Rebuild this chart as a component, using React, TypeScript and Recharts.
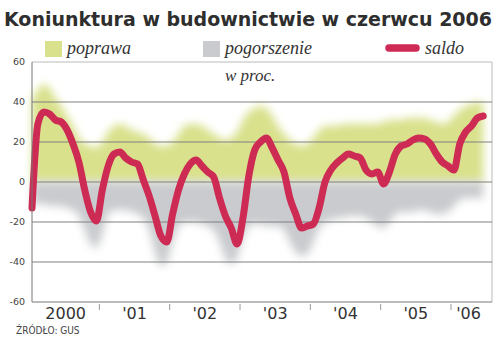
import React from "react";
import { ComposedChart, Area, Line, XAxis, YAxis, ReferenceLine } from "recharts";

// monthly, Jan 2000 .. Jun 2006 (78 months)
const saldo = [
  -13, 29, 35, 34, 31, 30, 26, 19, 10, -4,
  -15, -19.5, -4, 8, 14, 15, 12, 10, 9, 1,
  -7, -17, -27, -30, -16, -4, 4, 9, 11, 8,
  5, 2.5, -8, -17, -23, -31, -18, 3, 16, 20,
  22, 17, 11, 5, -8, -16, -23, -22, -21, -13,
  0, 6, 9.5, 12, 14, 13, 12, 6, 4, 5,
  -1, 5, 14, 18, 19, 21, 22, 21.5, 19, 14,
  10, 8, 6, 19, 25, 28, 32, 33,
];

const poprawa = [
  42, 46, 49, 47, 42, 38, 33, 28, 22, 19,
  18, 17, 20, 25, 28, 29, 28, 26, 25, 24,
  22, 19, 18, 18, 20, 24, 28, 29, 29, 28,
  26, 24, 22, 21, 22, 25, 31, 35, 37, 38,
  37, 33, 28, 24, 21, 19, 18, 19, 22, 26,
  28, 28, 28, 29, 29, 29, 29, 29, 29, 29,
  30, 31, 31, 31, 32, 32, 32, 32, 31, 30,
  29, 30, 33, 36, 38, 39, 40, 40,
];

const pogorszenie = [
  -11, -11, -11, -12, -12, -12, -13, -14, -17, -24,
  -31, -33, -26, -16, -14, -14, -14, -15, -16, -18,
  -24, -35, -42, -40, -30, -22, -20, -20, -20, -21,
  -22, -24, -30, -38, -41, -38, -28, -22, -21, -21,
  -22, -22, -22, -24, -30, -35, -37, -36, -30, -23,
  -20, -19, -18, -18, -17, -17, -17, -18, -20, -22,
  -23, -20, -16, -15, -15, -15, -14, -14, -15, -16,
  -16, -15, -12, -9, -8, -8, -8, -8,
];

const yearLabels = ["2000", "'01", "'02", "'03", "'04", "'05", "'06"];
const yTicks = [-60, -40, -20, 0, 20, 40, 60];
const gridValues = [-40, -20, 0, 20, 40];

const GREEN = "#d9e18c";
const GRAY = "#c9cbce";
const RED = "#cd2a54";

const data = saldo.map((s, i) => ({
  m: i,
  saldo: s,
  poprawa: poprawa[i],
  pogorszenie: pogorszenie[i],
}));

const n = saldo.length;
const xMax = n + 0.5;

// year boundaries get a small tick mark, year centres get the label
const boundaries = yearLabels.slice(1).map((_, i) => (i + 1) * 12 - 0.5);
const labelAt = new Map<number, string>();
yearLabels.forEach((lab, i) => {
  const start = i * 12 - 0.5;
  const end = Math.min(i * 12 + 11.5, n - 0.5);
  labelAt.set((Math.max(start, 0) + end) / 2, lab);
});
const xTicks = [...labelAt.keys(), ...boundaries].sort((a, b) => a - b);

const YearTick = (props: any) => {
  const { x, y, payload } = props;
  const lab = labelAt.get(payload.value);
  if (lab === undefined) {
    return <line x1={x} x2={x} y1={y + 2} y2={y + 8} stroke="#999" strokeWidth={1} />;
  }
  return (
    <text
      x={x}
      y={y + 16.5}
      textAnchor="middle"
      fill="#333"
      fontSize={16}
      fontFamily="'DejaVu Sans', sans-serif"
    >
      {lab}
    </text>
  );
};

const serif = "'Liberation Serif', 'DejaVu Serif', serif";

export default function App() {
  return (
    <div style={{ position: "absolute", left: 0, top: 0, width: 500, height: 354, background: "#fff" }}>
      <ComposedChart
        width={500}
        height={354}
        data={data}
        margin={{ top: 62, right: 8, bottom: 22, left: 0 }}
      >
        <defs>
          <filter id="soft" x="-10%" y="-30%" width="120%" height="160%">
            <feGaussianBlur stdDeviation="4" />
          </filter>
        </defs>
        <XAxis
          dataKey="m"
          type="number"
          domain={[0, xMax]}
          ticks={xTicks}
          interval={0}
          height={30}
          tick={<YearTick />}
          tickLine={false}
          tickSize={0}
          tickMargin={0}
          axisLine={{ stroke: "#777" }}
        />
        <YAxis
          type="number"
          domain={[-60, 60]}
          ticks={yTicks}
          interval={0}
          width={32}
          tickLine={false}
          tickSize={6}
          tickMargin={1}
          axisLine={{ stroke: "#777" }}
          tick={{ fill: "#444", fontSize: 9.5, fontFamily: "'DejaVu Sans', sans-serif" }}
        />
        <Area
          dataKey="poprawa"
          type="monotone"
          baseValue={0}
          stroke="none"
          fill={GREEN}
          fillOpacity={1}
          filter="url(#soft)"
          isAnimationActive={false}
        />
        <Area
          dataKey="pogorszenie"
          type="monotone"
          baseValue={0}
          stroke="none"
          fill={GRAY}
          fillOpacity={1}
          filter="url(#soft)"
          isAnimationActive={false}
        />
        <ReferenceLine y={60} stroke="#bbb" />
        <ReferenceLine x={xMax} stroke="#bbb" />
        {gridValues.map((v) => (
          <ReferenceLine key={v} y={v} stroke="#808080" />
        ))}
        <Line
          dataKey="saldo"
          type="monotone"
          stroke={RED}
          strokeWidth={7}
          strokeLinecap="round"
          strokeLinejoin="round"
          dot={false}
          activeDot={false}
          isAnimationActive={false}
        />
      </ComposedChart>
      <svg
        width={500}
        height={354}
        style={{ position: "absolute", left: 0, top: 0, pointerEvents: "none" }}
      >
        <text
          x={4}
          y={26}
          textLength={488}
          lengthAdjust="spacing"
          fontSize={19}
          fontWeight="bold"
          fontFamily="'DejaVu Sans', sans-serif"
          fill="#2e2e2e"
        >
          Koniunktura w budownictwie w czerwcu 2006
        </text>
        <rect x={45} y={41} width={17} height={16} fill={GREEN} />
        <text x={67} y={53.5} fontSize={18} fontStyle="italic" fontFamily={serif} fill="#333">
          poprawa
        </text>
        <rect x={203} y={41} width={17} height={16} fill={GRAY} />
        <text x={225} y={53.5} fontSize={18} fontStyle="italic" fontFamily={serif} fill="#333">
          pogorszenie
        </text>
        <line x1={389} x2={416} y1={48} y2={48} stroke={RED} strokeWidth={7.5} strokeLinecap="round" />
        <text x={425} y={53.5} fontSize={18} fontStyle="italic" fontFamily={serif} fill="#333">
          saldo
        </text>
        <text x={225} y={81} fontSize={17} fontStyle="italic" fontFamily={serif} fill="#333">
          w proc.
        </text>
        <text
          x={16}
          y={333.5}
          fontSize={10}
          fontFamily="'Liberation Sans Narrow', 'DejaVu Sans Condensed', sans-serif"
          fill="#444"
        >
          ŹRÓDŁO: GUS
        </text>
      </svg>
    </div>
  );
}
